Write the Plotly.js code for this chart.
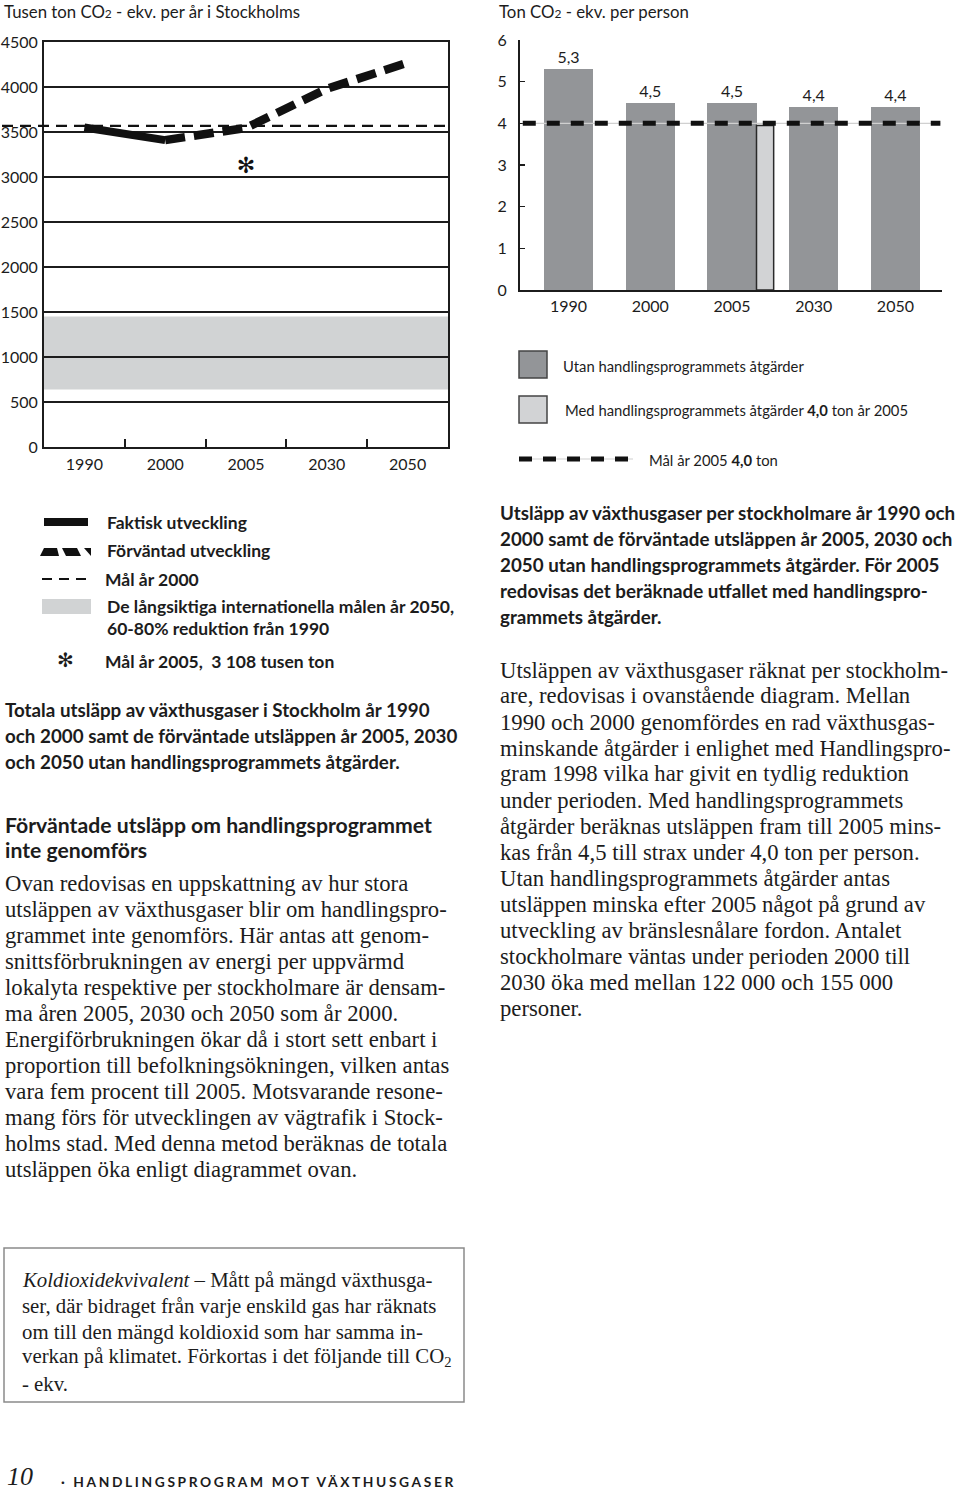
<!DOCTYPE html>
<html>
<head>
<meta charset="utf-8">
<script src="https://cdn.plot.ly/plotly-3.0.1.min.js"></script>
<style>
  html, body { margin: 0; padding: 0; background: #fff; }
  #page { width: 960px; height: 1491px; }
</style>
</head>
<body>
<div id="page"></div>
<script>
// ---------- DATA ----------
const years = ['1990', '2000', '2005', '2030', '2050'];

// Left chart: total emissions, thousand tonnes CO2-eq per year
const faktiskYears = ['1990', '2000'];
const faktiskValues = [3550, 3410];
const forvantadYears = ['2000', '2005', '2030', '2050'];
const forvantadValues = [3410, 3545, 3980, 4270];
const malAr2000 = 3567;
const langsiktigaMalen = [640, 1450];
const malAr2005Year = '2005';
const malAr2005Total = 3108;
const leftYTicks = [0, 500, 1000, 1500, 2000, 2500, 3000, 3500, 4000, 4500];

// Right chart: tonnes CO2-eq per person
const utanAtgarder = [5.3, 4.5, 4.5, 4.4, 4.4];
const medAtgarderYear = '2005';
const medAtgarderValue = 3.95;
const malAr2005PerPerson = 4.0;
const rightYTicks = [0, 1, 2, 3, 4, 5, 6];

// ---------- HELPERS ----------
const W = 960, H = 1491;
const X = p => p / W;
const Y = p => 1 - p / H;
const SANS = 'Lato, "Open Sans", sans-serif';
const SERIF = '"Liberation Serif", "DejaVu Serif", serif';
const INK = '#1c1c1c';

const annotations = [];
function txt(x, y, text, size, family, extra) {
  annotations.push(Object.assign({
    xref: 'paper', yref: 'paper', x: X(x), y: Y(y),
    xanchor: 'left', yanchor: 'middle', align: 'left',
    text: text, showarrow: false,
    font: { family: family || SANS, size: size, color: INK }
  }, extra || {}));
}
function lines(x, y0, step, arr, size, family, bold) {
  arr.forEach((t, i) => txt(x, y0 + i * step, bold ? '<b>' + t + '</b>' : t, size, family));
}

const shapes = [];
function prect(x0, y0, x1, y1, fill, line) {
  shapes.push({ type: 'rect', xref: 'paper', yref: 'paper',
    x0: X(x0), x1: X(x1), y0: Y(y1), y1: Y(y0),
    fillcolor: fill, line: line || { width: 0 } });
}
function pline(x0, y0, x1, y1, line) {
  shapes.push({ type: 'line', xref: 'paper', yref: 'paper',
    x0: X(x0), x1: X(x1), y0: Y(y0), y1: Y(y1), line: line });
}
function ppath(pts, fill) {
  const d = pts.map((p, i) => (i ? 'L' : 'M') + X(p[0]) + ',' + Y(p[1])).join(' ') + ' Z';
  shapes.push({ type: 'path', xref: 'paper', yref: 'paper', path: d,
    fillcolor: fill, line: { width: 0 } });
}

// ---------- TRACES ----------
const traces = [
  { type: 'scatter', mode: 'lines', x: faktiskYears, y: faktiskValues,
    xaxis: 'x', yaxis: 'y', line: { color: '#111', width: 8 }, hoverinfo: 'skip' },
  { type: 'scatter', mode: 'lines', x: forvantadYears, y: forvantadValues,
    xaxis: 'x', yaxis: 'y', line: { color: '#111', width: 8.5, dash: '20px,9px' }, hoverinfo: 'skip' },
  { type: 'scatter', mode: 'text', x: [malAr2005Year], y: [malAr2005Total],
    text: ['✻'], textposition: 'middle center',
    textfont: { family: '"DejaVu Sans"', size: 22, color: '#111' },
    xaxis: 'x', yaxis: 'y', hoverinfo: 'skip', cliponaxis: false },
  { type: 'bar', x: years.map((_, i) => i), y: utanAtgarder, width: 0.6,
    xaxis: 'x2', yaxis: 'y2', marker: { color: '#939598', line: { width: 0 } },
    texttemplate: '%{y:.1f}', textposition: 'outside', cliponaxis: false,
    textfont: { family: SANS, size: 16, color: INK }, hoverinfo: 'skip' },
  { type: 'bar', x: [years.indexOf(medAtgarderYear) + 0.405], y: [medAtgarderValue], width: 0.21,
    xaxis: 'x2', yaxis: 'y2', marker: { color: '#d2d3d5', line: { width: 1.5, color: '#2a2a2a' } },
    hoverinfo: 'skip' }
];

// ---------- CHART SHAPES ----------
// long-term international goal band (left chart)
shapes.push({ type: 'rect', xref: 'x domain', yref: 'y', x0: 0, x1: 1,
  y0: langsiktigaMalen[0], y1: langsiktigaMalen[1],
  fillcolor: '#d1d3d4', line: { width: 0 }, layer: 'below' });
// Mål år 2000 (thin dashed)
shapes.push({ type: 'line', xref: 'paper', yref: 'y', x0: X(2), x1: X(447),
  y0: malAr2000, y1: malAr2000, line: { color: '#111', width: 2.2, dash: '11px,7px' } });
// Mål år 2005 per person (right chart)
shapes.push({ type: 'line', xref: 'x2', yref: 'y2', x0: -0.56, x1: 4.55,
  y0: malAr2005PerPerson, y1: malAr2005PerPerson, line: { color: '#d0d0d0', width: 1.2 } });
shapes.push({ type: 'line', xref: 'x2', yref: 'y2', x0: -0.56, x1: 4.55,
  y0: malAr2005PerPerson, y1: malAr2005PerPerson, line: { color: '#111', width: 5, dash: '13px,11px' } });

// ---------- LEGENDS ----------
// right legend
prect(519, 351, 547, 378, '#939598', { color: '#444', width: 1.5 });
prect(519, 396, 547, 423, '#d2d3d5', { color: '#444', width: 1.5 });
pline(519, 459, 633, 459, { color: '#cfcfcf', width: 1.2 });
pline(519, 459, 633, 459, { color: '#111', width: 5, dash: '13px,11px' });
txt(561, 366, 'Utan handlingsprogrammets åtgärder', 14.8);
txt(563, 410, 'Med handlingsprogrammets åtgärder <b>4,0</b> ton år 2005', 14.8);
txt(647, 460, 'Mål år 2005 <b>4,0</b> ton', 14.8);

// left legend
pline(44, 522, 88, 522, { color: '#111', width: 8 });
ppath([[40, 556], [44, 548], [57, 548], [59, 556]], '#111');
ppath([[62, 548], [77, 548], [81, 556], [66, 556]], '#111');
ppath([[84, 548], [91, 548], [91, 556]], '#111');
pline(42, 579, 91, 579, { color: '#111', width: 2.2, dash: '10px,7px' });
prect(42, 599, 91, 614, '#d1d3d4');
txt(55, 660, '✻', 20, '"DejaVu Sans"');
txt(105, 522, '<b>Faktisk utveckling</b>', 17.5);
txt(105, 551, '<b>Förväntad utveckling</b>', 17.5);
txt(103, 579, '<b>Mål år 2000</b>', 17.5);
txt(105, 606, '<b>De långsiktiga internationella målen år 2050,</b>', 17.5);
txt(105, 628, '<b>60-80% reduktion från 1990</b>', 17.5);
txt(103, 661, '<b>Mål år 2005,  3 108 tusen ton</b>', 17.5);

// ---------- TITLES & TEXT ----------
txt(3, 0, 'Tusen ton CO<span style="font-size:12px">2</span> - ekv. per år i Stockholms', 16.8,
  SANS, { yanchor: 'top', borderpad: 0 });
txt(498, 0, 'Ton CO<span style="font-size:12px">2</span> - ekv. per person', 16.8,
  SANS, { yanchor: 'top', borderpad: 0 });

lines(3, 709, 26, [
  'Totala utsläpp av växthusgaser i Stockholm år 1990',
  'och 2000 samt de förväntade utsläppen år 2005, 2030',
  'och 2050 utan handlingsprogrammets åtgärder.'
], 18.8, SANS, true);

lines(3, 825, 25, [
  'Förväntade utsläpp om handlingsprogrammet',
  'inte genomförs'
], 21.2, SANS, true);

lines(3, 883, 26, [
  'Ovan redovisas en uppskattning av hur stora',
  'utsläppen av växthusgaser blir om handlingspro-',
  'grammet inte genomförs. Här antas att genom-',
  'snittsförbrukningen av energi per uppvärmd',
  'lokalyta respektive per stockholmare är densam-',
  'ma åren 2005, 2030 och 2050 som år 2000.',
  'Energiförbrukningen ökar då i stort sett enbart i',
  'proportion till befolkningsökningen, vilken antas',
  'vara fem procent till 2005. Motsvarande resone-',
  'mang förs för utvecklingen av vägtrafik i Stock-',
  'holms stad. Med denna metod beräknas de totala',
  'utsläppen öka enligt diagrammet ovan.'
], 22.7, SERIF, false);

lines(498, 513, 25.75, [
  'Utsläpp av växthusgaser per stockholmare år 1990 och',
  '2000 samt de förväntade utsläppen år 2005, 2030 och',
  '2050 utan handlingsprogrammets åtgärder. För 2005',
  'redovisas det beräknade utfallet med handlingspro-',
  'grammets åtgärder.'
], 18.8, SANS, true);

lines(498, 670, 26, [
  'Utsläppen av växthusgaser räknat per stockholm-',
  'are, redovisas i ovanstående diagram. Mellan',
  '1990 och 2000 genomfördes en rad växthusgas-',
  'minskande åtgärder i enlighet med Handlingspro-',
  'gram 1998 vilka har givit en tydlig reduktion',
  'under perioden. Med handlingsprogrammets',
  'åtgärder beräknas utsläppen fram till 2005 mins-',
  'kas från 4,5 till strax under 4,0 ton per person.',
  'Utan handlingsprogrammets åtgärder antas',
  'utsläppen minska efter 2005 något på grund av',
  'utveckling av bränslesnålare fordon. Antalet',
  'stockholmare väntas under perioden 2000 till',
  '2030 öka med mellan 122 000 och 155 000',
  'personer.'
], 22.7, SERIF, false);

// definition box
prect(4, 1248, 464, 1402, 'rgba(0,0,0,0)', { color: '#8a8a8a', width: 1.5 });
lines(20, 1280, 25.8, [
  '<i>Koldioxidekvivalent</i> – Mått på mängd växthusga-',
  'ser, där bidraget från varje enskild gas har räknats',
  'om till den mängd koldioxid som har samma in-',
  'verkan på klimatet. Förkortas i det följande till CO<sub>2</sub>',
  '- ekv.'
], 20.8, SERIF, false);

// footer
txt(5, 1476, '<i>10 </i>', 26, SERIF);
txt(60, 1491, '<b><span style="letter-spacing:2.6px">· HANDLINGSPROGRAM MOT VÄXTHUSGASER</span></b>', 13.8,
  SANS, { yanchor: 'bottom', borderpad: 0, width: 420 });

// ---------- LAYOUT ----------
const axisCommon = { linecolor: INK, tickcolor: INK, zeroline: false,
  tickfont: { family: SANS, size: 16, color: INK }, fixedrange: true };

const layout = {
  width: W, height: H,
  margin: { l: 0, r: 0, t: 0, b: 0, pad: 0 },
  paper_bgcolor: '#fff', plot_bgcolor: 'rgba(0,0,0,0)',
  showlegend: false,
  separators: ', ',
  bargap: 0,
  xaxis: Object.assign({}, axisCommon, {
    type: 'category', categoryarray: years, categoryorder: 'array',
    domain: [X(44), X(448)], anchor: 'y', range: [-0.5, 4.5],
    showline: true, linewidth: 2, mirror: true, showgrid: false,
    ticks: 'inside', tickson: 'boundaries', ticklen: 8, tickwidth: 2,
    ticklabelstandoff: 2
  }),
  yaxis: Object.assign({}, axisCommon, {
    domain: [Y(447), Y(42)], anchor: 'x', range: [0, 4500],
    tickvals: leftYTicks, showline: true, linewidth: 2, mirror: true,
    showgrid: true, gridcolor: INK, gridwidth: 1.5, ticks: '',
    ticklabelstandoff: 1
  }),
  xaxis2: Object.assign({}, axisCommon, {
    domain: [X(520), X(942)], anchor: 'y2', range: [-0.594, 4.57],
    tickvals: years.map((_, i) => i), ticktext: years,
    showline: true, linewidth: 2, showgrid: false, ticks: '',
    ticklabelstandoff: 1
  }),
  yaxis2: Object.assign({}, axisCommon, {
    domain: [Y(290), Y(40)], anchor: 'x2', range: [0, 6],
    tickvals: rightYTicks, showline: true, linewidth: 2, showgrid: false,
    ticks: 'inside', ticklen: 5, tickwidth: 1.5,
    ticklabelstandoff: 8
  }),
  shapes: shapes,
  annotations: annotations
};

Plotly.newPlot('page', traces, layout, { staticPlot: true, displayModeBar: false });
</script>
</body>
</html>
